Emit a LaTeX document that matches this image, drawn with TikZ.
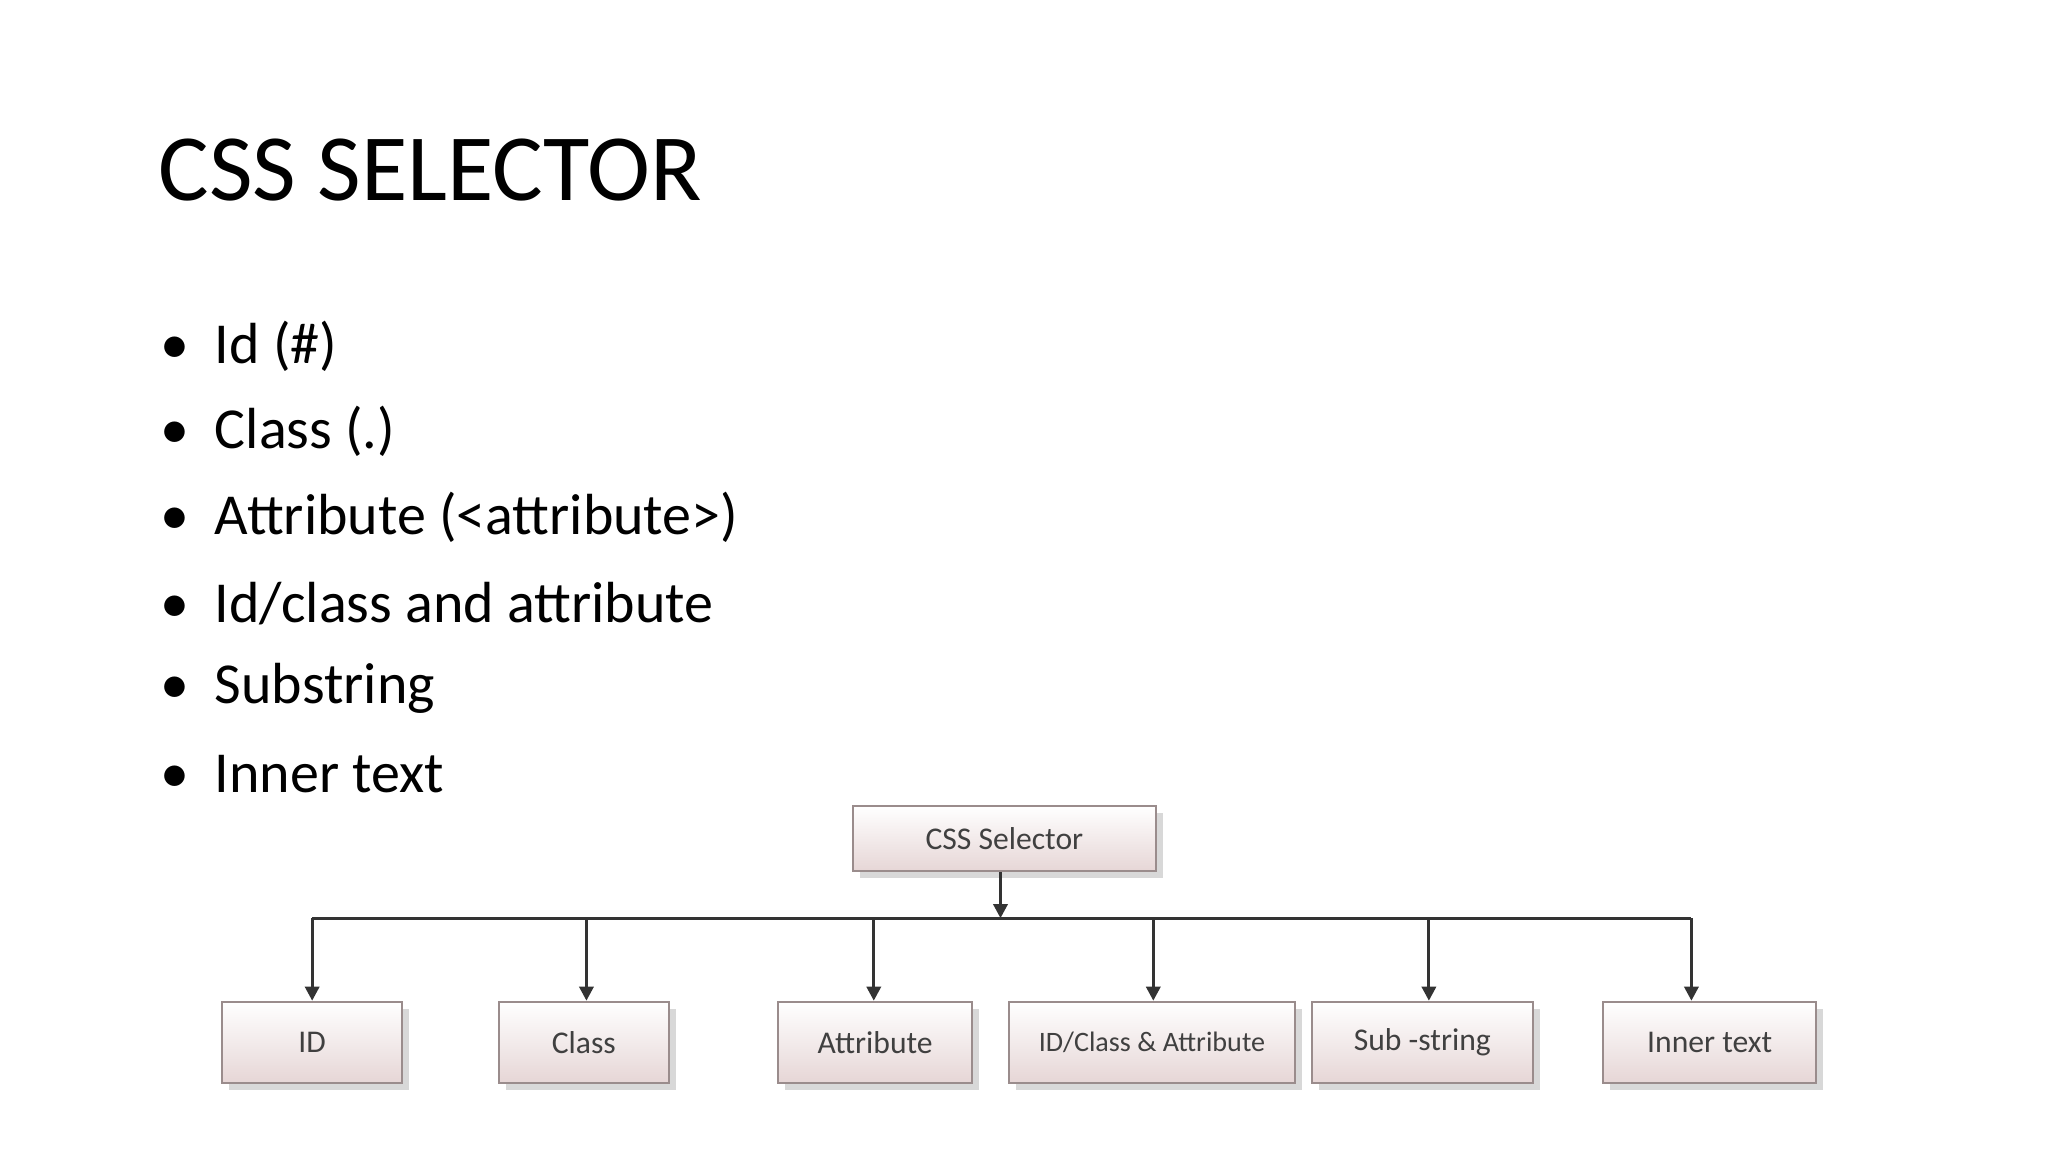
\documentclass[tikz,border=0pt]{standalone}
\usepackage{fontspec}
\setmainfont{Carlito}
\usetikzlibrary{arrows.meta,shadows}
\definecolor{boxpink}{HTML}{E6D6D6}
\definecolor{boxedge}{HTML}{9A8C8C}
\def\u{0.013061cm}
\begin{document}
\begin{tikzpicture}[x=\u,y=-\u,
  box/.style={draw=boxedge,line width=0.6pt,top color=white,bottom color=boxpink,
     drop shadow={shadow xshift=2pt,shadow yshift=-2pt,fill=black!25,opacity=0.6},
     inner sep=0pt,font=\fontsize{9}{10}\selectfont,text=black!75},
  bul/.style={anchor=west,font=\fontsize{16.5}{18}\selectfont},
  conn/.style={draw=black!80,line width=0.9pt},
  arr/.style={conn,-{Triangle[length=4pt,width=4pt]}}]
\useasboundingbox (0,0) rectangle (1568,882);
\fill[white] (0,0) rectangle (1568,882);
\node[anchor=west,font=\fontsize{27}{30}\selectfont] (title) at (112,130) {CSS SELECTOR};
\foreach \t [count=\i] in {Id (\#),Class (.),Attribute (<attribute>),Id/class and attribute,Substring,Inner text}{
  \node[bul] (b\i) at (113,{265+65.6*(\i-1)}) {\textbullet\hspace{0.45em}\t};
}
\node[box,minimum width=232*\u,minimum height=50*\u] (sel) at (769,642) {CSS Selector};
\coordinate (jl) at (239,703);
\coordinate (jr) at (1295,703);
\coordinate (jm) at (766,703);
\node[box,minimum width=138*\u,minimum height=62*\u] (n1) at (239,798) {ID};
\node[box,minimum width=130*\u,minimum height=62*\u] (n2) at (447,798) {Class};
\node[box,minimum width=149*\u,minimum height=62*\u] (n3) at (670,798) {Attribute};
\node[box,minimum width=219*\u,minimum height=62*\u] (n4) at (882,798) {\fontsize{8}{9}\selectfont ID/Class \& Attribute};
\node[box,minimum width=169*\u,minimum height=62*\u] (n5) at (1089,798) {Sub -string};
\node[box,minimum width=163*\u,minimum height=62*\u] (n6) at (1309,798) {Inner text};
\draw[arr] (sel.south -| jm) -- (jm);
\draw[conn] (jl) -- (jr);
\foreach \n/\x in {n1/239,n2/449,n3/669,n4/883,n5/1094,n6/1295}{
  \coordinate (t\n) at (\x,703);
  \draw[arr] (t\n) -- (t\n |- \n.north);
}
\end{tikzpicture}
\end{document}
